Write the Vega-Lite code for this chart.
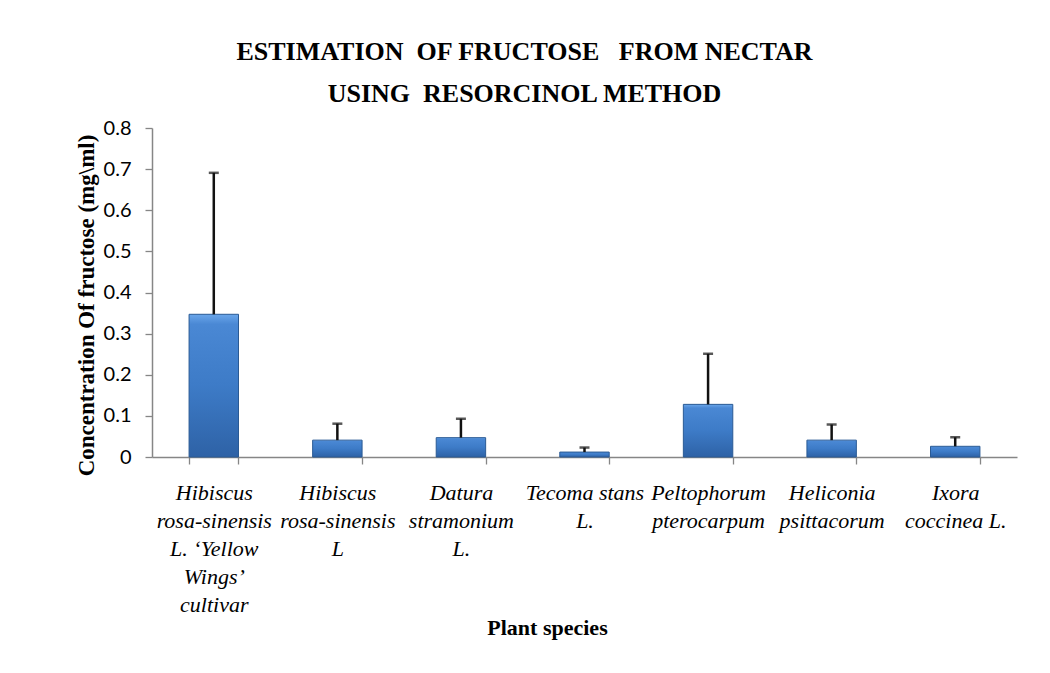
{
  "$schema": "https://vega.github.io/schema/vega-lite/v6.json",
  "width": 865,
  "height": 329,
  "autosize": {"type": "none"},
  "padding": {"left": 152, "top": 128, "right": 33, "bottom": 216},
  "background": "white",
  "title": {
    "text": ["ESTIMATION\u00a0 OF FRUCTOSE \u00a0 FROM NECTAR", "USING\u00a0 RESORCINOL METHOD"],
    "font": "Liberation Serif",
    "fontSize": 26,
    "fontWeight": "bold",
    "color": "#000000",
    "anchor": "middle",
    "frame": "group",
    "dx": -60,
    "offset": 11,
    "lineHeight": 42
  },
  "data": {
    "values": [
      {"species": "Hibiscus|rosa-sinensis|L. ‘Yellow|Wings’|cultivar", "mean": 0.347, "upper": 0.691},
      {"species": "Hibiscus|rosa-sinensis|L", "mean": 0.041, "upper": 0.081},
      {"species": "Datura|stramonium|L.", "mean": 0.047, "upper": 0.093},
      {"species": "Tecoma stans|L.", "mean": 0.012, "upper": 0.023},
      {"species": "Peltophorum|pterocarpum", "mean": 0.128, "upper": 0.251},
      {"species": "Heliconia|psittacorum", "mean": 0.041, "upper": 0.079},
      {"species": "Ixora|coccinea L.", "mean": 0.026, "upper": 0.048}
    ]
  },
  "encoding": {
    "x": {
      "field": "species",
      "type": "nominal",
      "sort": null,
      "scale": {"paddingInner": 0.6, "paddingOuter": 0.3},
      "axis": {
        "title": "Plant species",
        "titleFont": "Liberation Serif",
        "titleFontSize": 22,
        "titleFontWeight": "bold",
        "titleColor": "#000000",
        "titleX": 395,
        "titleY": 160,
        "titleAlign": "center",
        "titleBaseline": "top",
        "labelExpr": "split(datum.label, '|')",
        "labelAngle": 0,
        "labelFont": "Liberation Serif",
        "labelFontStyle": "italic",
        "labelFontSize": 22,
        "labelLineHeight": 28,
        "labelColor": "#000000",
        "labelPadding": 18,
        "labelOverlap": false,
        "labelLimit": 0,
        "labelFlush": false,
        "tickBand": "extent",
        "tickSize": 7,
        "tickColor": "#868686",
        "domainColor": "#868686",
        "domainWidth": 1.5,
        "tickWidth": 1.3
      }
    }
  },
  "layer": [
    {
      "mark": {
        "type": "bar",
        "stroke": "#2a5a94",
        "strokeWidth": 1,
        "color": {
          "gradient": "linear",
          "x1": 0, "y1": 0, "x2": 0, "y2": 1,
          "stops": [
            {"offset": 0, "color": "#6aa6ea"},
            {"offset": 0.07, "color": "#4a88d4"},
            {"offset": 0.5, "color": "#3d7bc7"},
            {"offset": 1, "color": "#2e62a6"}
          ]
        }
      },
      "encoding": {
        "y": {
          "field": "mean",
          "type": "quantitative",
          "scale": {"domain": [0, 0.8]},
          "axis": {
            "title": "Concentration Of fructose (mg\\ml)",
            "titleFont": "Liberation Serif",
            "titleFontSize": 23,
            "titleFontWeight": "bold",
            "titleColor": "#000000",
            "titleAngle": 270,
            "titleX": -66,
            "titleY": 177,
            "titleAlign": "center",
            "titleBaseline": "middle",
            "values": [0, 0.1, 0.2, 0.3, 0.4, 0.5, 0.6, 0.7, 0.8],
            "format": "~g",
            "grid": false,
            "labelFont": "Lato",
            "labelFontSize": 20,
            "labelColor": "#000000",
            "labelPadding": 14,
            "tickSize": 7,
            "tickColor": "#868686",
            "domainColor": "#868686",
            "domainWidth": 1.5,
            "tickWidth": 1.3
          }
        }
      }
    },
    {
      "mark": {"type": "rule", "color": "#111111", "strokeWidth": 2.5},
      "encoding": {
        "y": {"field": "mean", "type": "quantitative"},
        "y2": {"field": "upper"}
      }
    },
    {
      "mark": {"type": "tick", "color": "#111111", "size": 10, "thickness": 2.5, "orient": "horizontal"},
      "encoding": {
        "y": {"field": "upper", "type": "quantitative"}
      }
    }
  ],
  "config": {
    "view": {"stroke": null}
  }
}
